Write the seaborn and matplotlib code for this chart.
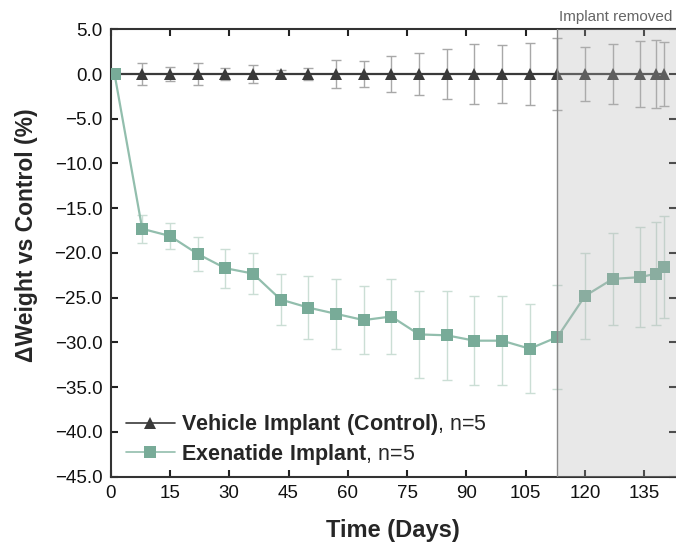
import matplotlib
matplotlib.use("Agg")
import matplotlib.pyplot as plt
import matplotlib.colors as mcolors
import seaborn as sns
import numpy as np
import pandas as pd

# Study days at which body weight was measured
days = [1, 8, 15, 22, 29, 36, 43, 50, 57, 64, 71, 78, 85, 92, 99, 106, 113, 120, 127, 134, 138, 140]

# Vehicle group (reference, % change vs control) and its error
vehicle_mean = [0.0] * 22
vehicle_err = [0.0, 1.25, 0.8, 1.25, 0.7, 1.0, 0.5, 0.7, 1.6, 1.4, 2.0, 2.3, 2.8, 3.3,
               3.2, 3.5, 4.0, 3.0, 3.4, 3.7, 3.8, 3.6]

# Exenatide implant group, % change vs control, and its error
exenatide_mean = [0.0, -17.3, -18.1, -20.1, -21.7, -22.3, -25.2, -26.1, -26.8, -27.5, -27.1,
                  -29.1, -29.2, -29.8, -29.8, -30.7, -29.4, -24.8, -22.9, -22.7, -22.3, -21.6]
exenatide_err = [0.0, 1.6, 1.5, 1.9, 2.2, 2.3, 2.8, 3.5, 3.9, 3.8, 4.2, 4.9, 5.0, 5.0,
                 5.0, 5.0, 5.8, 4.8, 5.1, 5.6, 5.8, 5.7]

removal_day = 113
x_ticks = list(range(0, 136, 15))
y_ticks = [5.0, 0.0, -5.0, -10.0, -15.0, -20.0, -25.0, -30.0, -35.0, -40.0, -45.0]

vehicle_label = r"$\mathbf{Vehicle\ Implant\ (Control)}$, n=5"
exenatide_label = r"$\mathbf{Exenatide\ Implant}$, n=5"

sns.set_theme(style="white")
plt.rcParams["font.family"] = ["Liberation Sans", "DejaVu Sans"]
plt.rcParams["mathtext.fontset"] = "custom"
plt.rcParams["mathtext.rm"] = "Liberation Sans"
plt.rcParams["mathtext.bf"] = "Liberation Sans:bold"

df = pd.concat([
    pd.DataFrame({"day": days, "value": vehicle_mean, "err": vehicle_err, "group": vehicle_label}),
    pd.DataFrame({"day": days, "value": exenatide_mean, "err": exenatide_err, "group": exenatide_label}),
])

dark = "#3a3a3a"
green_line = "#92bead"
green_mark = "#78ab98"
palette = {vehicle_label: dark, exenatide_label: green_line}
err_colors = {vehicle_label: "#a8a8a8", exenatide_label: "#cbded5"}

fig = plt.figure(figsize=(6.76, 5.42), dpi=100)
ax = fig.add_axes([0.1636, 0.1205, 0.8364, 0.8255])

# error bars first so the lines and markers sit on top
for grp, sub in df.groupby("group", sort=False):
    ax.errorbar(sub["day"], sub["value"], yerr=sub["err"], fmt="none",
                ecolor=err_colors[grp], elinewidth=1.0, capsize=3.5, capthick=1.0, zorder=2)

sns.lineplot(data=df, x="day", y="value", hue="group", style="group",
             markers={vehicle_label: "^", exenatide_label: "s"}, dashes=False,
             palette=palette, linewidth=1.6, markersize=8, markeredgewidth=0,
             ax=ax, zorder=3, legend=True)

# slightly deeper fill for the square markers than for their connecting line
green_rgba = mcolors.to_rgba(green_line)
for line in ax.get_lines():
    if mcolors.to_rgba(line.get_color()) == green_rgba:
        line.set_markerfacecolor(green_mark)
        line.set_markeredgecolor(green_mark)

# shaded post-removal period
ax.axvspan(removal_day, 150, color="#b4b4b4", alpha=0.3, lw=0, zorder=4)
ax.axvline(removal_day, color="#8a8a8a", lw=1.0, zorder=4)
ax.text(0.993, 1.012, "Implant removed", transform=ax.transAxes, ha="right", va="bottom",
        fontsize=11, color="#666666")

ax.set_xlim(0, 143)
ax.set_ylim(-45, 5)
ax.set_xticks(x_ticks)
ax.set_yticks(y_ticks)
ax.set_yticklabels([f"{v:.1f}".replace("-", "\u2212") for v in y_ticks])
ax.tick_params(axis="both", which="both", direction="in", length=5, width=1.5,
               color="#222222", labelsize=13.5, labelcolor="#111111",
               top=True, bottom=True, left=True, right=True, pad=6)
ax.tick_params(axis="y", right=True, labelright=False)

for side in ["left", "top", "bottom"]:
    ax.spines[side].set_color("#333333")
    ax.spines[side].set_linewidth(1.5)
ax.spines["right"].set_visible(False)

ax.set_xlabel("Time (Days)", fontsize=17, fontweight="bold", labelpad=12)
ax.set_ylabel("ΔWeight vs Control (%)", fontsize=16.5, fontweight="bold")
ax.yaxis.set_label_coords(-0.128, 0.54)

leg = ax.legend(loc="lower left", bbox_to_anchor=(0.0, -0.012), frameon=False,
                fontsize=15.5, handlelength=2.3, handletextpad=0.25, labelspacing=0.22,
                borderaxespad=0.3)
for h in leg.legend_handles:
    h.set_linewidth(1.2)
    if mcolors.to_rgba(h.get_color()) == green_rgba:
        h.set_markerfacecolor(green_mark)
        h.set_markeredgecolor(green_mark)

fig.savefig("out.png", dpi=100)
